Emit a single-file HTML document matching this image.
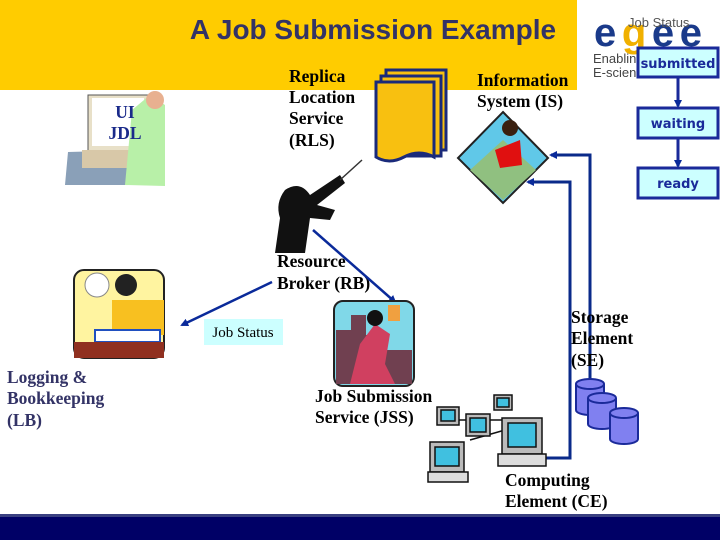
<!DOCTYPE html>
<html><head><style>
html,body{margin:0;padding:0;background:#fff;}
svg{display:block}
.t{font-family:"Liberation Serif",serif;font-weight:bold;font-size:17.5px;fill:#000}
</style></head><body>
<svg width="720" height="540" viewBox="0 0 720 540" xmlns="http://www.w3.org/2000/svg">
<defs>
<marker id="ah" markerWidth="8" markerHeight="8" refX="6" refY="4" orient="auto" markerUnits="userSpaceOnUse"><path d="M0,0 L8,4 L0,8 z" fill="#0a2a9a"/></marker>
</defs>
<rect x="0" y="0" width="577" height="90" fill="#FFCC00"/>
<text x="373" y="39" text-anchor="middle" font-family="Liberation Sans,sans-serif" font-weight="bold" font-size="28" fill="#333366">A Job Submission Example</text>
<text x="594" y="46" font-family="Liberation Sans,sans-serif" font-weight="bold" font-size="40" fill="#1a3a8a" textLength="108">e<tspan fill="#f0b000">g</tspan>ee</text>
<text x="628" y="27" font-family="Liberation Sans,sans-serif" font-size="13" fill="#555">Job Status</text>
<text x="593" y="63" font-family="Liberation Sans,sans-serif" font-size="13" fill="#444">Enablin</text>
<text x="593" y="77" font-family="Liberation Sans,sans-serif" font-size="13" fill="#444">E-scien</text>
<g font-family="DejaVu Sans,sans-serif" font-weight="bold" font-size="13" fill="#1a2a9a">
<rect x="638" y="48" width="80" height="29" fill="#ccffff" stroke="#1a2a9a" stroke-width="3"/>
<text x="678" y="68" text-anchor="middle">submitted</text>
<rect x="638" y="108" width="80" height="30" fill="#ccffff" stroke="#1a2a9a" stroke-width="3"/>
<text x="678" y="128" text-anchor="middle">waiting</text>
<rect x="638" y="168" width="80" height="30" fill="#ccffff" stroke="#1a2a9a" stroke-width="3"/>
<text x="678" y="188" text-anchor="middle">ready</text>
</g>
<line x1="678" y1="77" x2="678" y2="106" stroke="#1a2a9a" stroke-width="3" marker-end="url(#ah)"/>
<line x1="678" y1="138" x2="678" y2="166" stroke="#1a2a9a" stroke-width="3" marker-end="url(#ah)"/>
<rect x="88" y="95" width="62" height="56" fill="#e8e0c8" stroke="#555"/>
<rect x="92" y="98" width="52" height="48" fill="#fff"/>
<polygon points="65,185 68,152 140,150 150,185" fill="#8aa0b8"/>
<rect x="82" y="150" width="60" height="18" fill="#d8c8a8"/>
<path d="M125,185 L132,110 L150,95 L165,105 L165,186 z" fill="#b8f0a8"/>
<circle cx="155" cy="100" r="9" fill="#e8b090"/>
<text x="125" y="118" text-anchor="middle" class="t" style="fill:#1a2a8a">UI</text>
<text x="125" y="139" text-anchor="middle" class="t" style="fill:#1a2a8a">JDL</text>
<text x="289" y="82" class="t">Replica</text>
<text x="289" y="103" class="t">Location</text>
<text x="289" y="124" class="t">Service</text>
<text x="289" y="146" class="t">(RLS)</text>
<g stroke="#1a2a7a" stroke-width="3" fill="#f8c010">
<rect x="386" y="70" width="60" height="80"/>
<rect x="381" y="76" width="60" height="80"/>
<path d="M376,82 h58 v75 q-15,-8 -30,0 q-15,8 -28,0 z"/>
</g>
<text x="477" y="86" class="t">Information</text>
<text x="477" y="107" class="t">System (IS)</text>
<polygon points="503,112 548,158 503,203 458,158" fill="#60c8e8" stroke="#222" stroke-width="2"/>
<polygon points="470,170 503,140 536,170 503,200" fill="#90c080"/>
<path d="M495,150 L520,140 L522,165 L500,168 z" fill="#e01010"/>
<circle cx="510" cy="128" r="8" fill="#3a2010"/>
<path d="M285,190 q15,-10 25,5 l30,-20 l5,8 l-28,22 l18,5 l-5,10 l-20,-2 l-5,35 l-30,0 l5,-35 q-5,-15 5,-28 z" fill="#111"/>
<line x1="340" y1="180" x2="362" y2="160" stroke="#333" stroke-width="1.5"/>
<text x="277" y="267" class="t">Resource</text>
<text x="277" y="289" class="t">Broker (RB)</text>
<line x1="272" y1="282" x2="182" y2="325" stroke="#0a2a9a" stroke-width="2.5" marker-end="url(#ah)"/>
<line x1="313" y1="230" x2="395" y2="302" stroke="#0a2a9a" stroke-width="2.5" marker-end="url(#ah)"/>
<rect x="204" y="319" width="79" height="26" fill="#ccffff"/>
<text x="243" y="337" text-anchor="middle" font-family="Liberation Serif,serif" font-size="15" fill="#000">Job Status</text>
<rect x="74" y="270" width="90" height="88" rx="10" fill="#fff4a0" stroke="#222" stroke-width="2"/>
<rect x="112" y="300" width="52" height="35" fill="#f8c020"/>
<circle cx="126" cy="285" r="11" fill="#222"/>
<circle cx="97" cy="285" r="12" fill="#fff" stroke="#888"/>
<rect x="95" y="330" width="65" height="12" fill="#fff" stroke="#2050c0" stroke-width="2"/>
<rect x="74" y="342" width="90" height="16" fill="#903020"/>
<text x="7" y="383" class="t" style="fill:#333366">Logging &amp;</text>
<text x="7" y="404" class="t" style="fill:#333366">Bookkeeping</text>
<text x="7" y="426" class="t" style="fill:#333366">(LB)</text>
<rect x="334" y="301" width="80" height="85" rx="9" fill="#80d8e8" stroke="#222" stroke-width="2"/>
<path d="M336,330 h15 v-15 h15 v20 h20 v15 h26 v34 h-76 z" fill="#704050"/>
<path d="M350,384 l10,-40 l15,-20 l15,10 l-5,30 l10,20 z" fill="#d04060"/>
<circle cx="375" cy="318" r="8" fill="#111"/>
<rect x="388" y="305" width="12" height="16" fill="#f0a040"/>
<text x="315" y="402" class="t">Job Submission</text>
<text x="315" y="423" class="t">Service (JSS)</text>
<polyline points="590,382 590,155 551,155" fill="none" stroke="#0a2a8a" stroke-width="3" marker-end="url(#ah)"/>
<polyline points="533,458 570,458 570,182 528,182" fill="none" stroke="#0a2a8a" stroke-width="3" marker-end="url(#ah)"/>
<text x="571" y="323" class="t">Storage</text>
<text x="571" y="344" class="t">Element</text>
<text x="571" y="366" class="t">(SE)</text>
<g fill="#8080f0" stroke="#1a2a9a" stroke-width="2">
<path d="M576,384 v26 a14,5 0 0 0 28,0 v-26"/><ellipse cx="590" cy="384" rx="14" ry="5"/>
<path d="M588,398 v26 a14,5 0 0 0 28,0 v-26"/><ellipse cx="602" cy="398" rx="14" ry="5"/>
<path d="M610,413 v26 a14,5 0 0 0 28,0 v-26"/><ellipse cx="624" cy="413" rx="14" ry="5"/>
</g>
<g stroke="#111" stroke-width="1.5">
<line x1="450" y1="420" x2="520" y2="420"/><line x1="470" y1="440" x2="505" y2="430"/>
<rect x="437" y="407" width="22" height="18" fill="#bbb"/><rect x="441" y="410" width="14" height="11" fill="#40c0e0"/>
<rect x="466" y="414" width="24" height="22" fill="#bbb"/><rect x="470" y="418" width="16" height="14" fill="#40c0e0"/>
<rect x="494" y="395" width="18" height="15" fill="#bbb"/><rect x="497" y="398" width="12" height="9" fill="#40c0e0"/>
<rect x="502" y="418" width="40" height="36" fill="#bbb"/><rect x="508" y="423" width="28" height="24" fill="#40c0e0"/>
<rect x="498" y="454" width="48" height="12" fill="#ddd"/>
<rect x="430" y="442" width="34" height="30" fill="#bbb"/><rect x="435" y="447" width="24" height="19" fill="#40c0e0"/>
<rect x="428" y="472" width="40" height="10" fill="#ddd"/>
</g>
<text x="505" y="486" class="t">Computing</text>
<text x="505" y="507" class="t">Element (CE)</text>
<rect x="0" y="514" width="720" height="3" fill="#3a4080"/>
<rect x="0" y="517" width="720" height="23" fill="#000066"/>
</svg>
</body></html>
